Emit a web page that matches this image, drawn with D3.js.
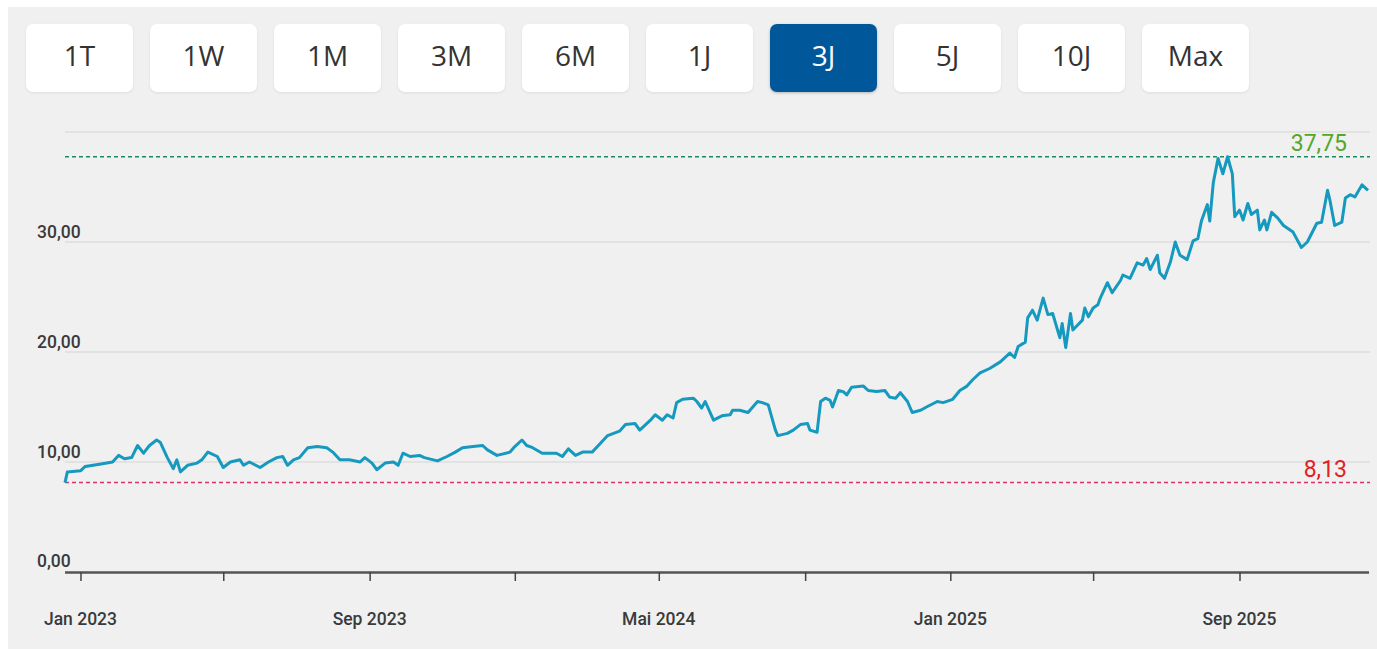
<!DOCTYPE html>
<html lang="de">
<head>
    <meta charset="UTF-8">
    <title>Kursverlauf 3J</title>
    <script src="https://d3js.org/d3.v7.min.js"></script>
    <style>
        html, body {
            margin: 0;
            padding: 0;
            background: #fff;
            width: 1377px;
            height: 649px;
            overflow: hidden;
        }
        .panel {
            position: absolute;
            left: 8px;
            top: 7px;
            width: 1369px;
            height: 642px;
            background: #f0f0f0;
        }
        .btn {
            position: absolute;
            top: 24px;
            width: 107px;
            height: 68px;
            box-sizing: border-box;
            padding-bottom: 6px;
            background: #fff;
            border-radius: 7px;
            box-shadow: 0 1px 3px rgba(0, 0, 0, 0.08);
            font-family: "Open Sans", "Noto Sans", sans-serif;
            font-size: 28px;
            color: #333;
            display: flex;
            align-items: center;
            justify-content: center;
            z-index: 2;
        }
        .btn.active {
            background: #00589b;
            color: #fff;
            box-shadow: 0 1px 3px rgba(0, 0, 0, 0.25);
        }
        svg {
            position: absolute;
            left: 0;
            top: 0;
        }
        .lbl {
            font-family: Roboto, "Noto Sans", sans-serif;
            font-weight: 500;
        }
    </style>
</head>
<body>
    <div class="panel" id="panel"></div>
    <svg id="chart" width="1377" height="649"></svg>

    <script>
        // Zeitraum-Buttons
        const ranges = ["1T", "1W", "1M", "3M", "6M", "1J", "3J", "5J", "10J", "Max"];
        const activeRange = "3J";

        // Kursdaten
        const dates = [
            "2022-12-19", "2022-12-21", "2023-01-01", "2023-01-05", "2023-01-17", "2023-01-28", "2023-02-02", "2023-02-07",
            "2023-02-13", "2023-02-18", "2023-02-23", "2023-02-28", "2023-03-06", "2023-03-09", "2023-03-15", "2023-03-20",
            "2023-03-23", "2023-03-26", "2023-04-01", "2023-04-09", "2023-04-13", "2023-04-18", "2023-04-26", "2023-05-01",
            "2023-05-07", "2023-05-15", "2023-05-18", "2023-05-23", "2023-06-01", "2023-06-08", "2023-06-15", "2023-06-20",
            "2023-06-24", "2023-06-29", "2023-07-04", "2023-07-11", "2023-07-19", "2023-07-27", "2023-08-01", "2023-08-07",
            "2023-08-15", "2023-08-24", "2023-08-28", "2023-09-03", "2023-09-07", "2023-09-14", "2023-09-21", "2023-09-25",
            "2023-09-29", "2023-10-05", "2023-10-13", "2023-10-17", "2023-10-28", "2023-11-05", "2023-11-12", "2023-11-18",
            "2023-11-27", "2023-12-05", "2023-12-09", "2023-12-17", "2023-12-28", "2024-01-01", "2024-01-07", "2024-01-11",
            "2024-01-16", "2024-01-24", "2024-02-05", "2024-02-10", "2024-02-15", "2024-02-21", "2024-02-27", "2024-03-06",
            "2024-03-13", "2024-03-19", "2024-03-29", "2024-04-03", "2024-04-11", "2024-04-15", "2024-04-24", "2024-04-28",
            "2024-05-04", "2024-05-08", "2024-05-13", "2024-05-16", "2024-05-21", "2024-05-30", "2024-06-02", "2024-06-06",
            "2024-06-09", "2024-06-16", "2024-06-23", "2024-06-30", "2024-07-02", "2024-07-08", "2024-07-15", "2024-07-23",
            "2024-07-27", "2024-08-01", "2024-08-07", "2024-08-09", "2024-08-17", "2024-08-22", "2024-08-28", "2024-09-03",
            "2024-09-05", "2024-09-11", "2024-09-14", "2024-09-18", "2024-09-22", "2024-09-24", "2024-09-29", "2024-10-03",
            "2024-10-06", "2024-10-10", "2024-10-20", "2024-10-24", "2024-10-31", "2024-11-07", "2024-11-11", "2024-11-16",
            "2024-11-20", "2024-11-26", "2024-11-30", "2024-12-07", "2024-12-12", "2024-12-21", "2024-12-26", "2025-01-03",
            "2025-01-09", "2025-01-15", "2025-01-20", "2025-01-26", "2025-02-03", "2025-02-12", "2025-02-20", "2025-02-24",
            "2025-02-27", "2025-03-05", "2025-03-07", "2025-03-11", "2025-03-15", "2025-03-20", "2025-03-24", "2025-03-28",
            "2025-04-03", "2025-04-05", "2025-04-08", "2025-04-12", "2025-04-14", "2025-04-22", "2025-04-24", "2025-04-27",
            "2025-05-01", "2025-05-05", "2025-05-07", "2025-05-13", "2025-05-17", "2025-05-24", "2025-05-26", "2025-06-01",
            "2025-06-07", "2025-06-12", "2025-06-15", "2025-06-18", "2025-06-24", "2025-06-26", "2025-06-30", "2025-07-05",
            "2025-07-09", "2025-07-13", "2025-07-19", "2025-07-24", "2025-07-28", "2025-07-31", "2025-08-05", "2025-08-07",
            "2025-08-10", "2025-08-14", "2025-08-18", "2025-08-22", "2025-08-26", "2025-08-28", "2025-09-01", "2025-09-04",
            "2025-09-08", "2025-09-11", "2025-09-16", "2025-09-18", "2025-09-22", "2025-09-24", "2025-09-28", "2025-10-03",
            "2025-10-08", "2025-10-16", "2025-10-23", "2025-10-28", "2025-11-05", "2025-11-09", "2025-11-14", "2025-11-16",
            "2025-11-20", "2025-11-26", "2025-11-29", "2025-12-03", "2025-12-07", "2025-12-13", "2025-12-18"
        ];
        const prices = [
            8.13, 9.1, 9.2, 9.6, 9.8, 10.0, 10.6, 10.3,
            10.4, 11.5, 10.8, 11.5, 12.0, 11.8, 10.4, 9.4,
            10.2, 9.1, 9.7, 9.9, 10.2, 10.9, 10.5, 9.5,
            10.0, 10.2, 9.7, 10.0, 9.5, 10.0, 10.4, 10.5,
            9.7, 10.2, 10.4, 11.3, 11.4, 11.3, 10.9, 10.2,
            10.2, 10.0, 10.4, 9.9, 9.3, 9.9, 10.0, 9.7,
            10.8, 10.5, 10.6, 10.4, 10.1, 10.5, 10.9, 11.3,
            11.4, 11.5, 11.1, 10.6, 10.9, 11.4, 12.0, 11.5,
            11.3, 10.8, 10.8, 10.5, 11.2, 10.6, 10.9, 10.9,
            11.7, 12.4, 12.8, 13.4, 13.5, 12.9, 13.8, 14.3,
            13.8, 14.3, 14.0, 15.4, 15.7, 15.8, 15.5, 14.9,
            15.5, 13.8, 14.2, 14.3, 14.7, 14.7, 14.5, 15.5,
            15.4, 15.2, 12.9, 12.4, 12.6, 12.9, 13.4, 13.5,
            12.9, 12.7, 15.5, 15.8, 15.6, 15.0, 16.5, 16.4,
            16.1, 16.8, 16.9, 16.5, 16.4, 16.5, 15.9, 15.8,
            16.3, 15.5, 14.5, 14.7, 15.0, 15.5, 15.4, 15.7,
            16.5, 16.9, 17.5, 18.1, 18.5, 19.1, 19.9, 19.5,
            20.5, 20.9, 23.1, 23.8, 22.9, 24.9, 23.4, 23.5,
            21.3, 22.6, 20.4, 23.5, 22.0, 22.9, 24.0, 23.2,
            24.0, 24.3, 24.9, 26.3, 25.4, 26.5, 27.0, 26.7,
            28.1, 27.9, 28.5, 27.5, 28.8, 27.2, 26.7, 28.2,
            30.0, 28.8, 28.4, 30.1, 30.3, 31.9, 33.4, 31.9,
            35.4, 37.6, 36.2, 37.75, 36.2, 32.3, 32.9, 32.0,
            33.5, 32.5, 32.9, 31.1, 32.0, 31.1, 32.7, 32.2,
            31.5, 30.9, 29.5, 30.0, 31.7, 31.8, 34.7, 33.8,
            31.5, 31.8, 34.0, 34.3, 34.1, 35.2, 34.7
        ];

        // Achsen
        const yTicks = [0, 10, 20, 30, 40];
        const yLabelTicks = [0, 10, 20, 30];
        const xTickDates = ["2023-01-01", "2023-05-01", "2023-09-01", "2024-01-01", "2024-05-01",
            "2024-09-01", "2025-01-01", "2025-05-01", "2025-09-01"];
        const xLabelDates = ["2023-01-01", "2023-09-01", "2024-05-01", "2025-01-01", "2025-09-01"];
        const monthNames = ["Jan", "Feb", "Mär", "Apr", "Mai", "Jun", "Jul", "Aug", "Sep", "Okt", "Nov", "Dez"];

        const parse = d3.timeParse("%Y-%m-%d");
        const data = dates.map((d, i) => ({ date: parse(d), value: prices[i] }));
        const fmt = v => d3.format(".2f")(v).replace(".", ",");

        // Buttons
        d3.select("body").selectAll(".btn")
            .data(ranges)
            .enter()
            .append("div")
            .attr("class", d => d === activeRange ? "btn active" : "btn")
            .style("left", (d, i) => (26 + i * 124) + "px")
            .text(d => d);

        const plotLeft = 65, plotRight = 1368, plotTop = 132, plotBottom = 572;
        const svg = d3.select("#chart");

        const x = d3.scaleTime()
            .domain(d3.extent(data, d => d.date))
            .range([plotLeft, plotRight]);
        const y = d3.scaleLinear()
            .domain([0, 40])
            .range([plotBottom, plotTop]);

        // Gitternetz
        svg.append("g")
            .selectAll("line")
            .data(yTicks.filter(t => t > 0))
            .enter()
            .append("line")
            .attr("x1", plotLeft)
            .attr("x2", plotRight + 2)
            .attr("y1", d => y(d))
            .attr("y2", d => y(d))
            .attr("stroke", "#dedede")
            .attr("stroke-width", 1.5);

        svg.append("g")
            .selectAll("text")
            .data(yLabelTicks)
            .enter()
            .append("text")
            .attr("class", "lbl")
            .attr("x", 37)
            .attr("y", d => y(d) - (d === 0 ? 5 : 4))
            .attr("font-size", 17.5)
            .attr("fill", "#3a3a3a")
            .text(d => fmt(d));

        // Hoch / Tief
        const hi = d3.max(prices), lo = d3.min(prices);
        const levels = [
            { v: hi, line: "#1b8a63", text: "#52a82a" },
            { v: lo, line: "#d8336b", text: "#e0211f" }
        ];
        svg.append("g")
            .selectAll("line")
            .data(levels)
            .enter()
            .append("line")
            .attr("x1", plotLeft)
            .attr("x2", plotRight + 2)
            .attr("y1", d => y(d.v))
            .attr("y2", d => y(d.v))
            .attr("stroke", d => d.line)
            .attr("stroke-width", 1.5)
            .attr("stroke-dasharray", "4,3");

        // Kurslinie
        const line = d3.line()
            .x(d => x(d.date))
            .y(d => y(d.value));

        svg.append("path")
            .datum(data)
            .attr("d", line)
            .attr("fill", "none")
            .attr("stroke", "#1699bf")
            .attr("stroke-width", 3)
            .attr("stroke-linejoin", "round");

        svg.append("g")
            .selectAll("text")
            .data(levels)
            .enter()
            .append("text")
            .attr("x", 1347)
            .attr("y", d => y(d.v) - 6)
            .attr("text-anchor", "end")
            .attr("font-family", "Roboto, sans-serif")
            .attr("font-size", 23)
            .attr("fill", d => d.text)
            .text(d => fmt(d.v));

        // X-Achse
        const xAxis = d3.axisBottom(x)
            .tickValues(xTickDates.map(parse))
            .tickSize(9)
            .tickFormat("");
        const gx = svg.append("g")
            .attr("transform", `translate(0,${plotBottom})`)
            .call(xAxis);
        gx.select(".domain")
            .attr("d", `M${plotLeft},0.5H${plotRight + 1}`)
            .attr("stroke", "#555")
            .attr("stroke-width", 2.5);
        gx.selectAll(".tick line")
            .attr("stroke", "#444")
            .attr("stroke-width", 1.5);

        svg.append("g")
            .selectAll("text")
            .data(xLabelDates.map(parse))
            .enter()
            .append("text")
            .attr("class", "lbl")
            .attr("x", d => x(d))
            .attr("y", 625)
            .attr("text-anchor", "middle")
            .attr("font-size", 17.5)
            .attr("fill", "#3a3a3a")
            .text(d => monthNames[d.getMonth()] + " " + d.getFullYear());
    </script>
</body>
</html>
